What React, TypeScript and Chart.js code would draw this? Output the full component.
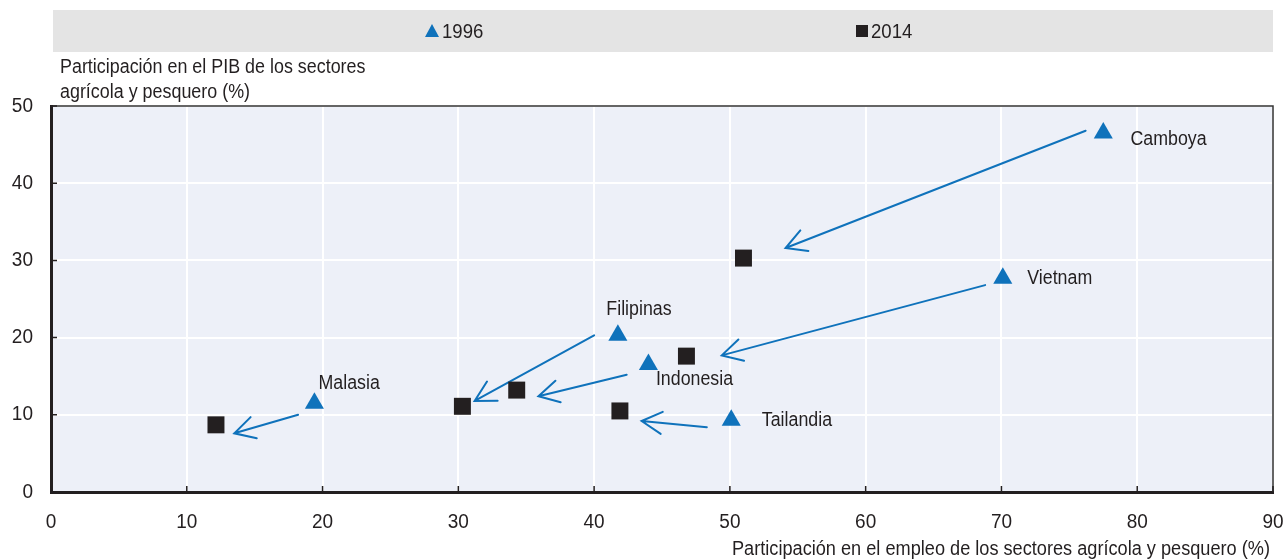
import React, { useEffect, useRef } from "react";
import { Chart, registerables } from "chart.js";

Chart.register(...registerables);

const countries = ["Camboya", "Vietnam", "Filipinas", "Indonesia", "Tailandia", "Malasia"];
const emp1996 = [77.5, 70.1, 41.75, 44.0, 50.1, 19.4];
const gdp1996 = [46.5, 27.7, 20.3, 16.5, 9.3, 11.5];
const emp2014 = [51.0, 46.8, 30.3, 34.3, 41.9, 12.15];
const gdp2014 = [30.3, 17.6, 11.1, 13.2, 10.5, 8.7];

// arrow tails / heads (data coordinates)
const arrowFromX = [76.2, 68.8, 40.0, 42.4, 48.3, 18.2];
const arrowFromY = [46.8, 26.8, 20.3, 15.2, 8.4, 10.0];
const arrowToX = [54.1, 49.4, 31.2, 35.9, 43.5, 13.5];
const arrowToY = [31.6, 17.7, 11.8, 12.4, 9.2, 7.6];

// label anchors (data coordinates, left edge / vertical middle)
const labelX = [79.5, 71.9, 40.9, 44.55, 52.35, 19.7];
const labelY = [45.7, 27.6, 23.6, 14.6, 9.2, 14.0];

const seriesNames = ["1996", "2014"];
const yTitle = ["Participación en el PIB de los sectores", "agrícola y pesquero (%)"];
const xTitle = "Participación en el empleo de los sectores agrícola y pesquero (%)";

const BLUE = "#0f72bb";
const DARK = "#231f20";
const FONT = "'Liberation Sans', Arial, sans-serif";

function txt(ctx: any, s: string, x: number, y: number, align: string, size: number, sx: number) {
  ctx.save();
  ctx.font = `${size}px ${FONT}`;
  ctx.textBaseline = "middle";
  ctx.textAlign = align;
  ctx.fillStyle = DARK;
  ctx.translate(x, y);
  ctx.scale(sx, 1);
  ctx.fillText(s, 0, 0);
  ctx.restore();
}

const overlay = {
  id: "overlay",
  beforeDraw(chart: any) {
    const { ctx, chartArea: a } = chart;
    ctx.save();
    // legend band
    ctx.fillStyle = "#e4e4e4";
    ctx.fillRect(53, 10, 1273 - 53, 42);
    // legend items
    ctx.fillStyle = BLUE;
    ctx.beginPath();
    ctx.moveTo(432, 24);
    ctx.lineTo(439, 37);
    ctx.lineTo(425, 37);
    ctx.closePath();
    ctx.fill();
    ctx.fillStyle = DARK;
    ctx.fillRect(856, 25, 12, 12);
    ctx.restore();
    txt(ctx, seriesNames[0], 442, 32, "left", 20, 0.93);
    txt(ctx, seriesNames[1], 871, 32, "left", 20, 0.93);
    // titles
    txt(ctx, yTitle[0], 60, 67, "left", 20, 0.895);
    txt(ctx, yTitle[1], 60, 92, "left", 20, 0.895);
    txt(ctx, xTitle, 1270, 549, "right", 20, 0.908);
    // plot background
    ctx.save();
    ctx.fillStyle = "#edf0f8";
    ctx.fillRect(a.left, a.top, a.right - a.left, a.bottom - a.top);
    ctx.restore();
  },
  beforeDatasetsDraw(chart: any) {
    const { ctx, scales } = chart;
    const xs = scales.x, ys = scales.y;
    ctx.save();
    ctx.strokeStyle = BLUE;
    ctx.lineWidth = 2;
    ctx.lineCap = "round";
    for (let i = 0; i < countries.length; i++) {
      const x1 = xs.getPixelForValue(arrowFromX[i]);
      const y1 = ys.getPixelForValue(arrowFromY[i]);
      const x2 = xs.getPixelForValue(arrowToX[i]);
      const y2 = ys.getPixelForValue(arrowToY[i]);
      const ang = Math.atan2(y2 - y1, x2 - x1);
      const hl = 23;
      const spread = 0.5;
      ctx.beginPath();
      ctx.moveTo(x1, y1);
      ctx.lineTo(x2, y2);
      ctx.moveTo(x2 - hl * Math.cos(ang - spread), y2 - hl * Math.sin(ang - spread));
      ctx.lineTo(x2, y2);
      ctx.lineTo(x2 - hl * Math.cos(ang + spread), y2 - hl * Math.sin(ang + spread));
      ctx.stroke();
    }
    ctx.restore();
  },
  afterDraw(chart: any) {
    const { ctx, chartArea: a, scales } = chart;
    ctx.save();
    // top & right frame
    ctx.strokeStyle = "#333";
    ctx.lineWidth = 1.5;
    ctx.beginPath();
    ctx.moveTo(a.left, a.top);
    ctx.lineTo(a.right, a.top);
    ctx.lineTo(a.right, a.bottom);
    ctx.stroke();
    // inward ticks
    ctx.strokeStyle = DARK;
    ctx.lineWidth = 1.5;
    ctx.beginPath();
    scales.y.ticks.forEach((t: any) => {
      const y = scales.y.getPixelForValue(t.value);
      ctx.moveTo(a.left, y);
      ctx.lineTo(a.left + 6, y);
    });
    scales.x.ticks.forEach((t: any) => {
      const x = scales.x.getPixelForValue(t.value);
      ctx.moveTo(x, a.bottom);
      ctx.lineTo(x, a.bottom - 6);
    });
    ctx.stroke();
    ctx.restore();
    // tick labels
    scales.y.ticks.forEach((t: any) => {
      txt(ctx, String(t.value), 33, scales.y.getPixelForValue(t.value), "right", 20, 0.95);
    });
    scales.x.ticks.forEach((t: any) => {
      txt(ctx, String(t.value), scales.x.getPixelForValue(t.value), 522, "center", 20, 0.95);
    });
    // country labels
    for (let i = 0; i < countries.length; i++) {
      txt(ctx, countries[i], scales.x.getPixelForValue(labelX[i]), scales.y.getPixelForValue(labelY[i]), "left", 20, 0.89);
    }
  },
};

export default function App() {
  const ref = useRef<HTMLCanvasElement>(null);
  useEffect(() => {
    document.body.style.margin = "0";
    const chart = new Chart(ref.current!, {
      type: "scatter",
      data: {
        datasets: [
          {
            label: seriesNames[0],
            data: emp1996.map((x, i) => ({ x, y: gdp1996[i] })),
            pointStyle: "triangle",
            pointRadius: 11,
            pointHoverRadius: 11,
            backgroundColor: BLUE,
            borderColor: BLUE,
            borderWidth: 0,
          },
          {
            label: seriesNames[1],
            data: emp2014.map((x, i) => ({ x, y: gdp2014[i] })),
            pointStyle: "rect",
            pointRadius: 12,
            pointHoverRadius: 12,
            backgroundColor: DARK,
            borderColor: DARK,
            borderWidth: 0,
          },
        ],
      },
      options: {
        animation: false,
        responsive: false,
        layout: { padding: { top: 106, right: 13, left: 0, bottom: 0 } },
        plugins: { legend: { display: false }, tooltip: { enabled: false } },
        scales: {
          x: {
            type: "linear",
            min: 0,
            max: 90,
            ticks: { stepSize: 10, display: false },
            grid: { color: "#ffffff", lineWidth: 2, drawTicks: false },
            border: { display: true, color: DARK, width: 3 },
            afterFit: (s: any) => { s.height = 68; s.paddingLeft = 0; s.paddingRight = 0; },
          },
          y: {
            type: "linear",
            min: 0,
            max: 50,
            ticks: { stepSize: 10, display: false },
            grid: { color: "#ffffff", lineWidth: 2, drawTicks: false },
            border: { display: true, color: DARK, width: 3 },
            afterFit: (s: any) => { s.width = 51; s.paddingTop = 0; s.paddingBottom = 0; },
          },
        },
      },
      plugins: [overlay],
    });
    return () => chart.destroy();
  }, []);
  return (
    <div style={{ width: 1286, height: 560 }}>
      <canvas ref={ref} width={1286} height={560} style={{ display: "block" }} />
    </div>
  );
}
